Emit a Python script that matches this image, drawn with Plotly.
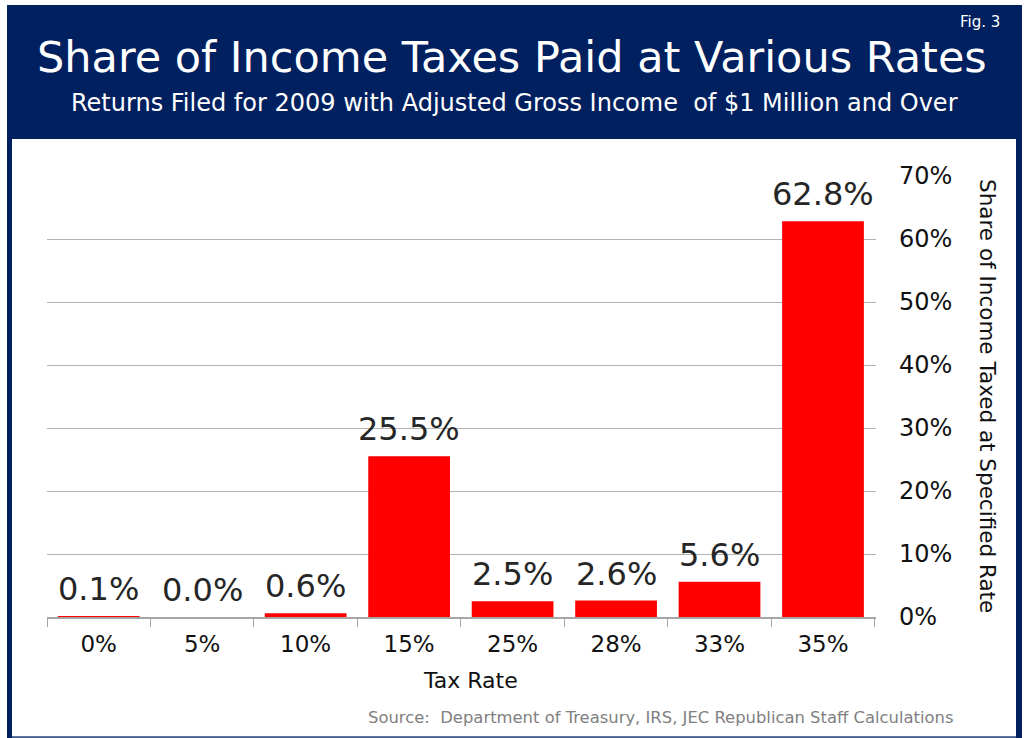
import plotly.graph_objects as go

# Tax rate brackets and share of income taxed at each rate (percent)
tax_rates = ["0%", "5%", "10%", "15%", "25%", "28%", "33%", "35%"]
share_pct = [0.1, 0.0, 0.6, 25.5, 2.5, 2.6, 5.6, 62.8]
y_ticks = [0, 10, 20, 30, 40, 50, 60, 70]
y_tick_text = [f"{v}%" for v in y_ticks]

W, H = 1027, 738
ML, MR, MT, MB = 47, 151, 176, 121
PW, PH = W - ML - MR, H - MT - MB

NAVY = "#002060"
FONT = "DejaVu Sans"


def px(x):
    return (x - ML) / PW


def py(y):
    return (H - MB - y) / PH


fig = go.Figure(
    go.Bar(
        x=tax_rates,
        y=share_pct,
        marker=dict(color="#ff0000", line=dict(width=0)),
        cliponaxis=False,
    )
)

shapes = [
    # navy frame
    dict(type="rect", xref="paper", yref="paper", layer="below",
         x0=px(7), x1=px(1022), y0=py(5), y1=py(738),
         fillcolor=NAVY, line=dict(width=0)),
    # white chart body
    dict(type="rect", xref="paper", yref="paper", layer="below",
         x0=px(12), x1=px(1016), y0=py(139), y1=py(736.5),
         fillcolor="white", line=dict(width=0)),
    dict(type="line", xref="paper", yref="paper", layer="below",
         x0=px(12), x1=px(1016), y0=py(737), y1=py(737),
         line=dict(color="#5a6f94", width=1.5)),
]

# value labels sitting just above each bar
value_labels = [
    dict(text=f"{v:.1f}%", x=cat, y=v, xref="x", yref="y",
         xanchor="center", yanchor="bottom", yshift=6, showarrow=False,
         font=dict(family=FONT, size=32, color="#262626"))
    for cat, v in zip(tax_rates, share_pct)
]

annotations = value_labels + [
    dict(text="Fig. 3", x=px(1002), y=py(22), xref="paper", yref="paper",
         xanchor="right", yanchor="middle", showarrow=False,
         font=dict(family=FONT, size=15, color="white")),
    dict(text="Share of Income Taxes Paid at Various Rates",
         x=px(512), y=py(57), xref="paper", yref="paper",
         xanchor="center", yanchor="middle", showarrow=False,
         font=dict(family=FONT, size=43, color="white")),
    dict(text="Returns Filed for 2009 with Adjusted Gross Income  of $1 Million and Over",
         x=px(514), y=py(103), xref="paper", yref="paper",
         xanchor="center", yanchor="middle", showarrow=False,
         font=dict(family=FONT, size=24, color="white")),
    dict(text="Share of Income Taxed at Specified Rate",
         x=px(988), y=py(396), xref="paper", yref="paper",
         xanchor="center", yanchor="middle", textangle=90, showarrow=False,
         font=dict(family=FONT, size=21.5, color="#111111")),
    dict(text="Tax Rate", x=px(470), y=py(680), xref="paper", yref="paper",
         xanchor="center", yanchor="middle", showarrow=False,
         font=dict(family=FONT, size=22, color="#111111")),
    dict(text="Source:  Department of Treasury, IRS, JEC Republican Staff Calculations",
         x=px(955), y=py(717), xref="paper", yref="paper",
         xanchor="right", yanchor="middle", showarrow=False,
         font=dict(family=FONT, size=16.4, color="#808080")),
]

fig.update_layout(
    width=W, height=H,
    margin=dict(l=ML, r=MR, t=MT, b=MB, pad=0),
    paper_bgcolor="white",
    plot_bgcolor="rgba(0,0,0,0)",
    showlegend=False,
    bargap=0.21,
    shapes=shapes,
    annotations=annotations,
    xaxis=dict(
        type="category",
        tickson="boundaries",
        ticks="outside", ticklen=8, tickcolor="#a6a6a6", tickwidth=1,
        showline=True, linecolor="#a6a6a6", linewidth=1.5,
        showgrid=False,
        tickfont=dict(family=FONT, size=23, color="#111111"),
        ticklabelstandoff=6,
    ),
    yaxis=dict(
        side="right",
        range=[0, 70],
        tickvals=y_ticks,
        ticktext=y_tick_text,
        showgrid=True, gridcolor="#b3b3b3", gridwidth=1,
        zeroline=False,
        showline=False,
        ticks="",
        tickfont=dict(family=FONT, size=24, color="#111111"),
        ticklabelstandoff=22,
    ),
)

fig.write_html("out.html")
